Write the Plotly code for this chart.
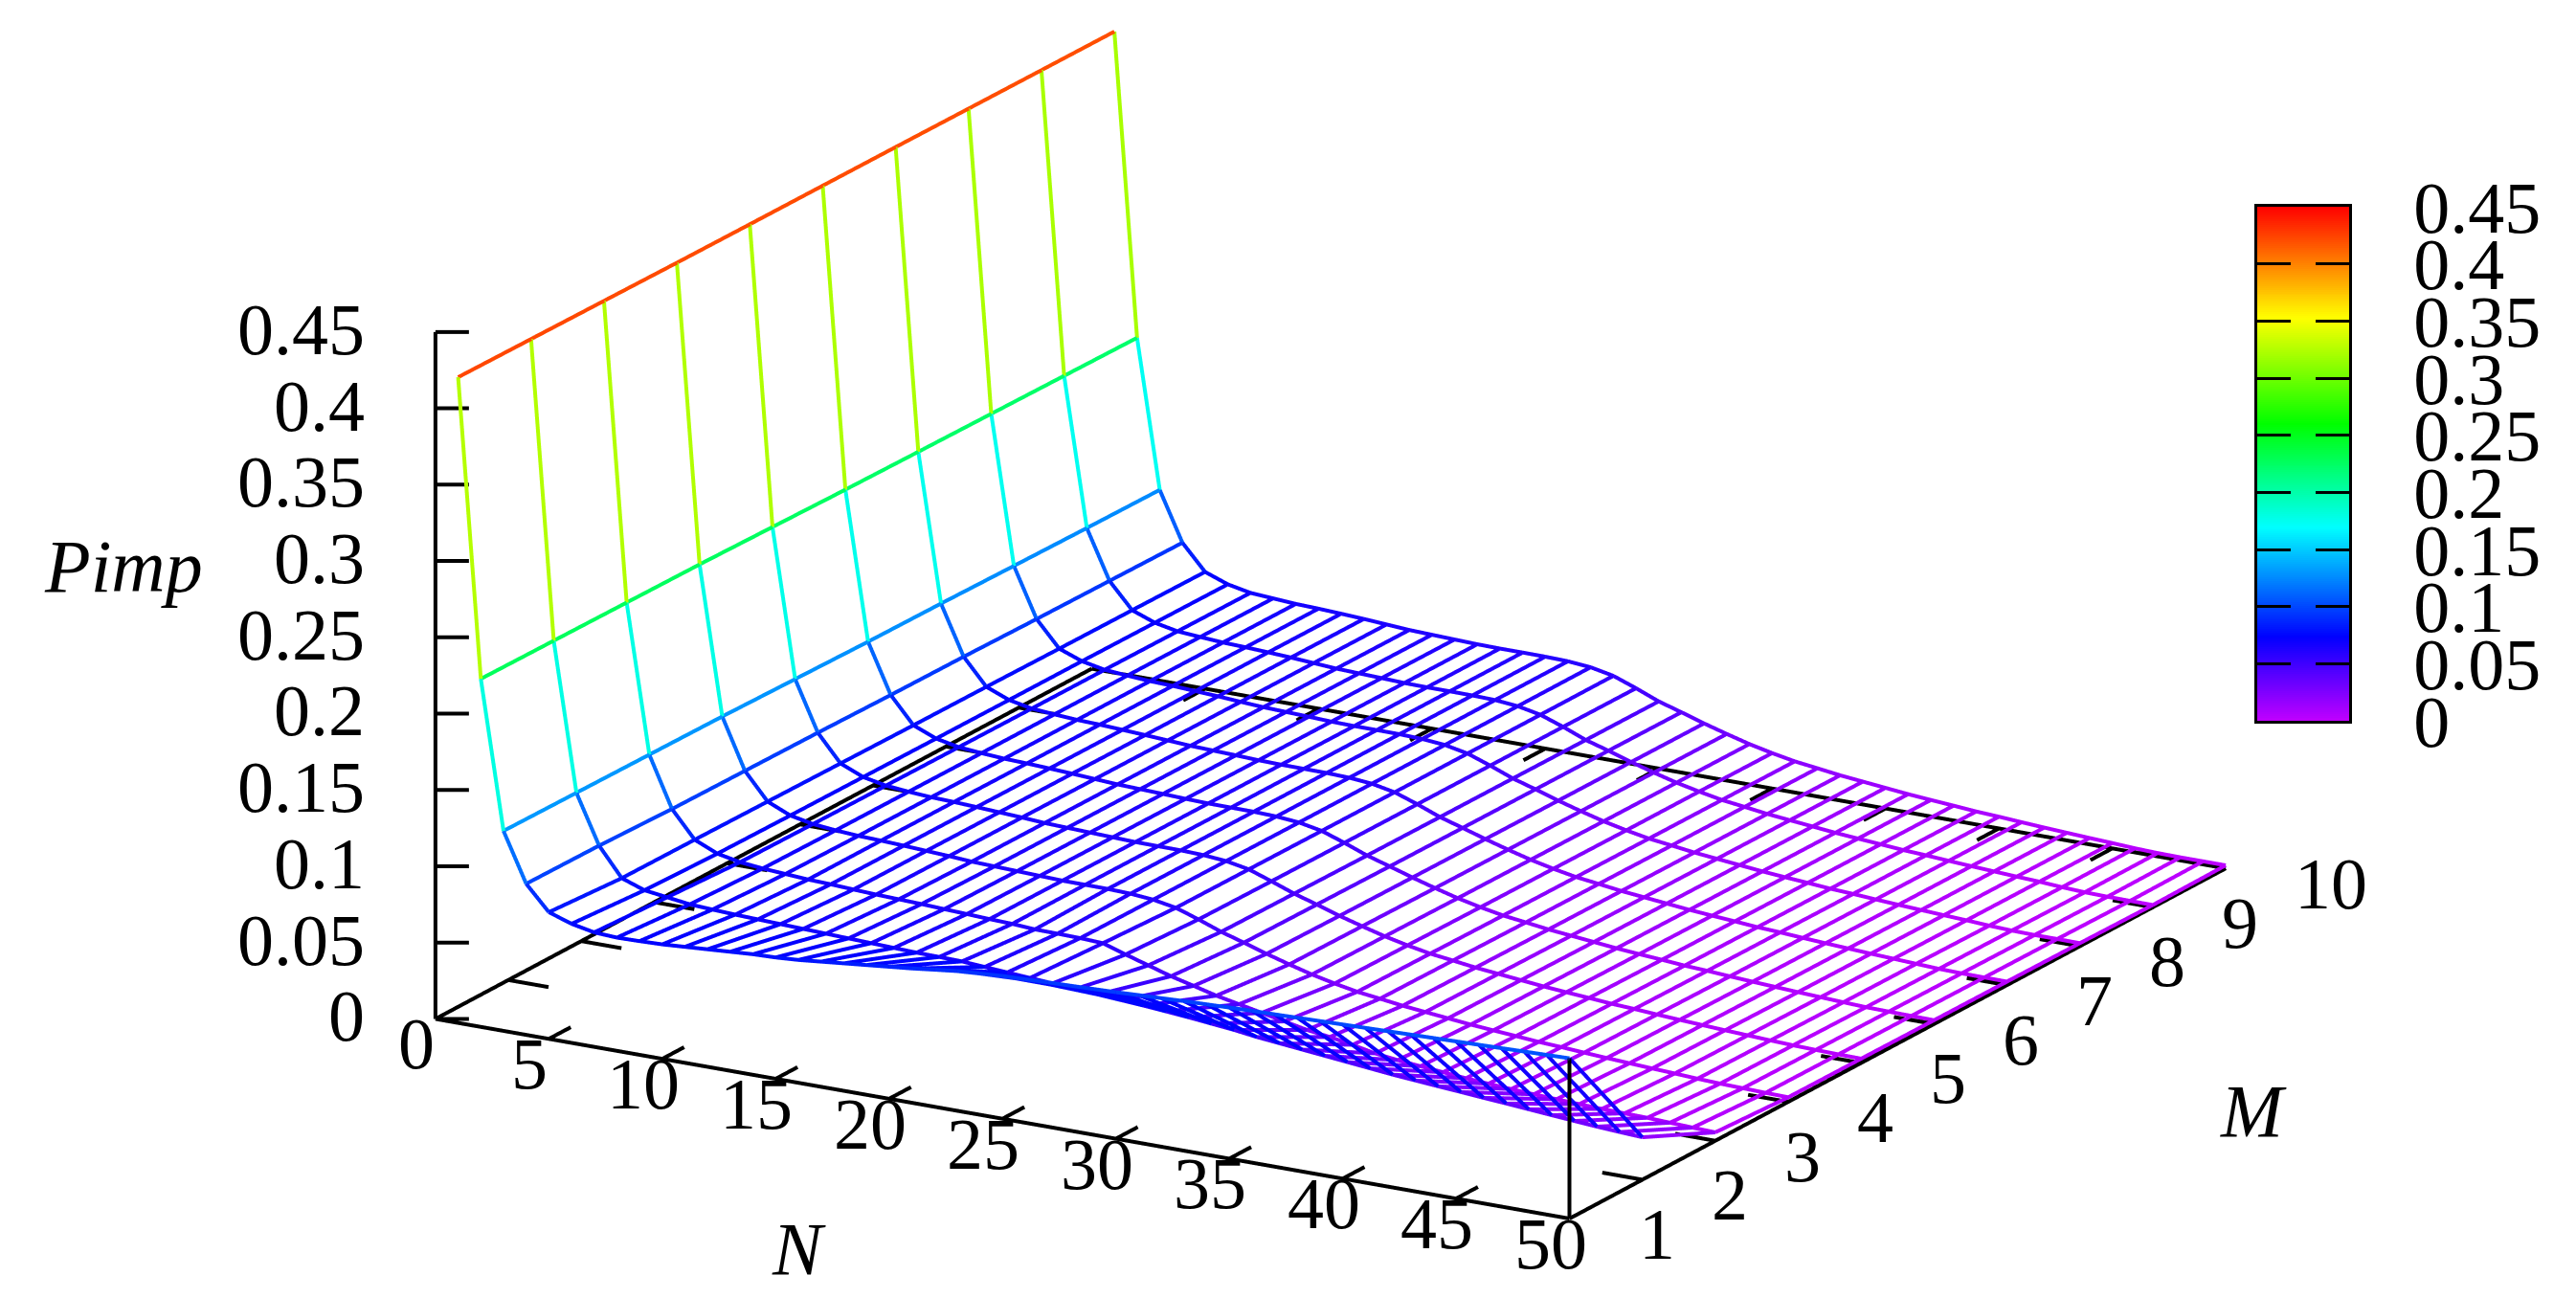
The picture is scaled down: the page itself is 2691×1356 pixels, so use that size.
import plotly.graph_objects as go
import numpy as np

N_values = list(range(1, 51))
M_values = list(range(1, 11))

Pimp_M1 = [.423,.228,.131,.099,.083,.078,.075,.0742,.0745,.075,.076,.077,.078,.079,.0795,.0805,.082,.0835,.085,.0865,.088,.0898,.0915,.0925,.0935,.094,.0946,.095,.0955,.096,.0967,.0973,.098,.0985,.099,.0995,.0998,.1002,.1006,.101,.1014,.1018,.1022,.1026,.103,.1034,.1038,.1042,.1046,.105]
Pimp_M2 = [.4225,.2275,.1305,.0985,.0798,.0745,.0725,.0705,.0697,.069,.0685,.068,.0675,.067,.0665,.066,.0655,.065,.0648,.0645,.0635,.0625,.0615,.0606,.0595,.0585,.0575,.0565,.0553,.054,.0525,.051,.049,.0475,.046,.0445,.043,.0415,.04,.0388,.0376,.0365,.0353,.0342,.033,.0318,.0306,.0295,.0286,.0278]
Pimp_M3 = [.422,.227,.13,.097,.0795,.073,.07,.0685,.0675,.0665,.066,.0652,.0645,.064,.0635,.0628,.0622,.0615,.061,.06,.0598,.0595,.0588,.054,.0495,.045,.0413,.0375,.0345,.0315,.0285,.0255,.0235,.021,.018,.0162,.0148,.0135,.0122,.0112,.0103,.0095,.0089,.0083,.0078,.0075,.0072,.0066,.006,.0055]
Pimp_M4 = [.4215,.2265,.1295,.0965,.079,.0725,.0695,.068,.067,.0665,.0658,.065,.0642,.0632,.0627,.0622,.0617,.0612,.0611,.061,.0605,.0592,.0565,.0515,.046,.0415,.0368,.0325,.0285,.0252,.0224,.0205,.0185,.017,.0155,.014,.0128,.0117,.0105,.0097,.0087,.0078,.007,.0062,.0055,.0047,.0041,.0037,.0033,.003]
Pimp_M5 = [.4212,.2255,.1285,.096,.0785,.0722,.0692,.0678,.0668,.0663,.0656,.0648,.064,.063,.0625,.062,.0615,.061,.0609,.0608,.0603,.059,.0562,.051,.0455,.041,.0362,.032,.028,.0247,.0219,.02,.018,.0165,.015,.0135,.0123,.0112,.01,.0092,.0082,.0073,.0065,.0057,.005,.0043,.0037,.0033,.003,.0028]
Pimp_M6 = [.421,.2245,.1275,.0952,.078,.0719,.0689,.0676,.0666,.0661,.0654,.0646,.0637,.0628,.0623,.0618,.0612,.0608,.0607,.0606,.0601,.0588,.0559,.0507,.045,.0405,.0358,.0315,.0275,.0242,.0214,.0195,.0175,.016,.0145,.013,.0118,.0107,.0095,.0087,.0077,.0068,.006,.0052,.0045,.0038,.0032,.0029,.0027,.0025]
Pimp_M7 = [.4208,.2238,.127,.0948,.0777,.0717,.0687,.0675,.0665,.066,.0652,.0644,.0635,.0626,.0621,.0616,.061,.0607,.0606,.0605,.06,.0587,.0557,.0505,.0447,.0402,.0355,.0312,.0272,.0239,.0211,.0192,.0172,.0157,.0142,.0127,.0115,.0104,.0092,.0084,.0074,.0065,.0057,.0049,.0042,.0035,.0028,.0025,.0024,.0023]
Pimp_M8 = [.4205,.2232,.1262,.094,.0772,.0716,.0686,.0674,.0664,.0659,.0651,.0643,.0633,.0624,.0619,.0614,.0608,.0605,.0605,.0604,.0599,.0586,.0556,.0503,.0445,.04,.0352,.0309,.0269,.0236,.0208,.0189,.0169,.0154,.0139,.0124,.0112,.0101,.0089,.0081,.0071,.0062,.0054,.0046,.0039,.003,.0024,.0021,.0021,.002]
Pimp_M9 = [.4202,.2226,.1255,.0935,.0769,.0713,.0683,.0672,.0662,.0657,.065,.0642,.0632,.0622,.0617,.0612,.0606,.0604,.0604,.0603,.0599,.0585,.0555,.0502,.0442,.0398,.035,.0307,.0267,.0235,.0206,.0187,.0167,.0152,.0137,.0122,.011,.0099,.0087,.0079,.0069,.006,.0052,.0044,.0037,.0027,.002,.0017,.0016,.0015]
Pimp_M10 = [.42,.222,.125,.093,.0765,.071,.068,.067,.066,.0655,.0648,.064,.063,.062,.0615,.061,.0605,.0603,.0603,.0602,.0598,.0585,.0555,.05,.044,.0395,.0348,.0305,.0265,.0232,.0204,.0185,.0165,.015,.0135,.012,.0108,.0097,.0085,.0077,.0067,.0058,.005,.0042,.0035,.0027,.0022,.002,.002,.002]

Z_ROWS = [Pimp_M1, Pimp_M2, Pimp_M3, Pimp_M4, Pimp_M5, Pimp_M6, Pimp_M7, Pimp_M8, Pimp_M9, Pimp_M10]

N_ticks = [0, 5, 10, 15, 20, 25, 30, 35, 40, 45, 50]
M_ticks = [1, 2, 3, 4, 5, 6, 7, 8, 9, 10]
Z_ticks = [0, 0.05, 0.1, 0.15, 0.2, 0.25, 0.3, 0.35, 0.4, 0.45]
Z_labels = ["0", "0.05", "0.1", "0.15", "0.2", "0.25", "0.3", "0.35", "0.4", "0.45"]

FONT = "Liberation Serif"
FS = 76
W, H = 2691, 1356
scale = [[0, "#c000ff"], [.1635, "#0000ff"], [.376, "#00ffff"], [.578, "#00ff00"], [.783, "#ffff00"], [1, "#ff0000"]]

# wire segments, one flat colour per segment
xs, ys, zs, cs = [], [], [], []
def seg(n0, m0, z0, n1, m1, z1):
    c = (z0 + z1) / 2
    xs.extend([n0, n1, None]); ys.extend([m0, m1, None]); zs.extend([z0, z1, None]); cs.extend([c, c, c])
for i, m in enumerate(M_values):
    for j, n in enumerate(N_values):
        if j + 1 < len(N_values):
            seg(n, m, Z_ROWS[i][j], N_values[j + 1], m, Z_ROWS[i][j + 1])
        if i + 1 < len(M_values):
            seg(n, m, Z_ROWS[i][j], n, M_values[i + 1], Z_ROWS[i + 1][j])

# frame and ticks
N0, N1 = N_ticks[0], N_ticks[-1]
M0, M1 = M_ticks[0], M_ticks[-1]
Z1 = Z_ticks[-1]
fx, fy, fz = [], [], []
def line(a, b):
    fx.extend([a[0], b[0], None]); fy.extend([a[1], b[1], None]); fz.extend([a[2], b[2], None])
line((N0, M0, 0), (N1, M0, 0)); line((N1, M0, 0), (N1, M1, 0))
line((N1, M1, 0), (N0, M1, 0)); line((N0, M1, 0), (N0, M0, 0))
line((N0, M0, 0), (N0, M0, Z1))
line((N1, M0, 0), (N1, M0, Pimp_M1[-1]))
for n in N_ticks:
    line((n, M0, 0), (n, M0 + .3, 0)); line((n, M1, 0), (n, M1 - .3, 0))
for m in M_ticks:
    line((N1, m, 0), (N1 - 1.77, m, 0)); line((N0, m, 0), (N0 + 1.77, m, 0))
for z in Z_ticks:
    line((N0, M0, z), (N0 + 1.11, M0 + .114, z))

fig = go.Figure()
fig.add_trace(go.Scatter3d(x=fx, y=fy, z=fz, mode="lines", line=dict(color="black", width=8), hoverinfo="skip", showlegend=False))
fig.add_trace(go.Scatter3d(x=xs, y=ys, z=zs, mode="lines", showlegend=False,
                           line=dict(color=cs, colorscale=scale, cmin=0, cmax=Z1, width=8)))

# colour key
levels = np.linspace(0, Z1, 271)
fig.add_trace(go.Heatmap(x=[0, 1], y=levels, z=[[v, v] for v in levels], colorscale=scale, zmin=0, zmax=Z1,
                         showscale=False, xaxis="x", yaxis="y", hoverinfo="skip"))

tick_font = dict(family=FONT, size=FS, color="black")
ann = []
for z, t in zip(Z_ticks, Z_labels):
    ann.append(dict(x=N0, y=M0, z=z, text=t, showarrow=False, xanchor="right", yanchor="middle", xshift=-72, yshift=3, font=tick_font))
for n in N_ticks:
    ann.append(dict(x=n, y=M0, z=0, text=str(n), showarrow=False, xanchor="center", yanchor="middle", xshift=-20, yshift=-26, font=tick_font))
for m in M_ticks:
    ann.append(dict(x=N1, y=m, z=0, text=str(m), showarrow=False, xanchor="left", yanchor="middle", xshift=70, yshift=-16, font=tick_font))

# view: orthographic, shifted so the box sits where it does in the figure
view = np.array([0.498, -0.867, 0.322]); view = view / np.linalg.norm(view)
right = np.array([0.867, 0.498, 0.0])
upv = np.array([0, 0, 1.0]) - view[2] * view; upv = upv / np.linalg.norm(upv)
PX_PER_UNIT = 678.0
cen = (-44.5 / PX_PER_UNIT) * right + (-51.0 / PX_PER_UNIT) * upv
eye = cen + view * 3.0

# axis ranges carry a small pad so marks on the box edge are not clipped by the renderer
pad_n, pad_m, pad_z = 0.2, 0.036, 0.0018
rx = [N0 - pad_n, N1 + pad_n]
ry = [M0 - pad_m, M1 + pad_m]
rz = [0 - pad_z, Z1 + pad_z]

title_font = dict(family=FONT, size=78, color="black")
title_kw = dict(xref="paper", yref="paper", showarrow=False, font=title_font, xanchor="center", yanchor="middle")
fig.update_layout(
    width=W, height=H, margin=dict(l=0, r=0, t=0, b=0, autoexpand=False), paper_bgcolor="white", plot_bgcolor="white", showlegend=False,
    scene=dict(
        domain=dict(x=[0, 1], y=[0, 1]),
        aspectmode="manual",
        aspectratio=dict(x=2.015 * (rx[1] - rx[0]) / (N1 - N0), y=2.03 * (ry[1] - ry[0]) / (M1 - M0), z=1.112 * (rz[1] - rz[0]) / Z1),
        xaxis=dict(range=rx, visible=False),
        yaxis=dict(range=ry, visible=False),
        zaxis=dict(range=rz, visible=False),
        bgcolor="rgba(0,0,0,0)",
        camera=dict(eye=dict(x=float(eye[0]), y=float(eye[1]), z=float(eye[2])),
                    up=dict(x=0, y=0, z=1), center=dict(x=float(cen[0]), y=float(cen[1]), z=float(cen[2])),
                    projection=dict(type="orthographic")),
        annotations=ann,
    ),
    xaxis=dict(domain=[2358 / W, 2454 / W], range=[0, 1], anchor="y", showline=True, mirror=True, linewidth=3, linecolor="black",
               ticks="", showticklabels=False, showgrid=False, zeroline=False),
    yaxis=dict(domain=[1 - 753 / H, 1 - 216 / H], range=[0, Z1], anchor="x", side="right", showline=True, mirror="allticks", linewidth=3,
               linecolor="black", ticks="inside", ticklen=35, tickwidth=3, tickcolor="black", tickvals=Z_ticks, ticktext=Z_labels,
               ticklabelstandoff=49, tickfont=tick_font, showgrid=False, zeroline=False),
    annotations=[
        dict(x=129 / W, y=1 - 592 / H, text="<i>Pimp</i>", **title_kw),
        dict(x=834 / W, y=1 - 1304 / H, text="<i>N</i>", **title_kw),
        dict(x=2354 / W, y=1 - 1160 / H, text="<i>M</i>", **title_kw),
    ],
)
fig.write_html("out.html", config=dict(displayModeBar=False), post_script="document.body.style.margin='0';")
